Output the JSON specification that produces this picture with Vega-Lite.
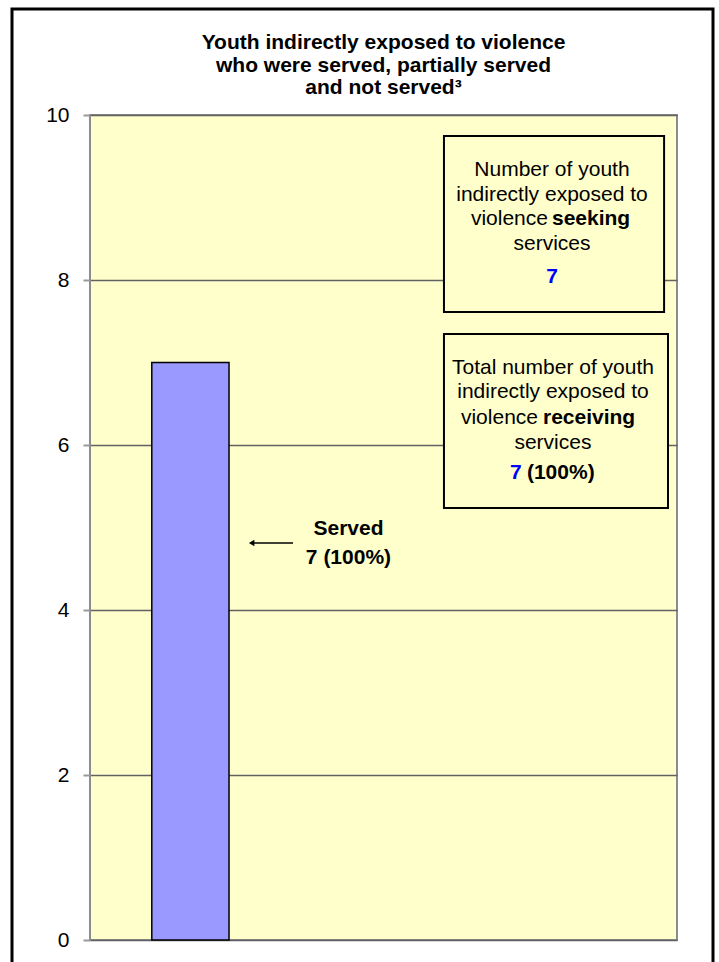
{
  "$schema": "https://vega.github.io/schema/vega-lite/v6.json",
  "width": 587,
  "height": 825,
  "autosize": {"type": "none"},
  "padding": {"left": 90, "top": 115, "right": 42, "bottom": 22},
  "background": "white",
  "config": {
    "view": {"fill": "#FFFFCC", "stroke": "#8c8c8c", "strokeWidth": 2},
    "font": "Liberation Sans",
    "axisY": {
      "format": "d",
      "labelFont": "Liberation Sans",
      "labelFontSize": 21,
      "labelColor": "black",
      "labelPadding": 14,
      "gridColor": "#626262",
      "gridWidth": 1.4,
      "domain": false,
      "tickSize": 7,
      "tickColor": "#999999",
      "tickWidth": 2
    }
  },
  "title": {
    "text": ["Youth indirectly exposed to violence", "who were served, partially served", "and not served³"],
    "font": "Liberation Sans",
    "fontSize": 21,
    "fontWeight": "bold",
    "lineHeight": 22.5,
    "offset": -91,
    "anchor": "middle",
    "frame": "group",
    "color": "black"
  },
  "datasets": {
    "youth": [{"status": "Served", "count": 7}],
    "frame": [{"x0": -0.3986, "x1": 3.184, "y0": 11.285, "y1": -0.6}],
    "boxes": [
      {"box": "seeking", "x0": 1.809, "x1": 2.934, "y0": 9.745, "y1": 7.612},
      {"box": "receiving", "x0": 1.809, "x1": 2.954, "y0": 7.345, "y1": 5.236}
    ],
    "plainText": [
      {"note": "Number of youth", "ax": 2.361, "ay": 9.333},
      {"note": "indirectly exposed to", "ax": 2.361, "ay": 9.03},
      {"note": "services", "ax": 2.361, "ay": 8.436},
      {"note": "Total number of youth", "ax": 2.366, "ay": 6.933},
      {"note": "indirectly exposed to", "ax": 2.366, "ay": 6.642},
      {"note": "services", "ax": 2.366, "ay": 6.024}
    ],
    "plainRight": [
      {"note": "violence", "ax": 2.3407, "ay": 8.739},
      {"note": "violence", "ax": 2.2896, "ay": 6.327}
    ],
    "boldLeft": [
      {"note": "seeking", "ax": 2.361, "ay": 8.739},
      {"note": "receiving", "ax": 2.315, "ay": 6.327},
      {"note": "(100%)", "ax": 2.233, "ay": 5.661}
    ],
    "blueCount": [
      {"note": "7", "ax": 2.361, "ay": 8.036}
    ],
    "blueLeft": [
      {"note": "7", "ax": 2.146, "ay": 5.661}
    ],
    "servedLabel": [
      {"note": "Served", "ax": 1.321, "ay": 4.982},
      {"note": "7 (100%)", "ax": 1.321, "ay": 4.63}
    ],
    "arrow": [{"xa": 1.0375, "xb": 0.835, "ay": 4.812}],
    "arrowHead": [{"ax": 0.826, "ay": 4.812}]
  },
  "layer": [
    {
      "data": {"name": "youth"},
      "mark": {"type": "bar", "fill": "#9999FF", "stroke": "black", "strokeWidth": 1.5},
      "encoding": {
        "x": {
          "field": "status",
          "type": "nominal",
          "scale": {"domain": ["Served", "Partially served", "Not served"], "paddingInner": 0.6, "paddingOuter": 0.32},
          "axis": null
        },
        "y": {
          "field": "count",
          "type": "quantitative",
          "scale": {"domain": [0, 10], "nice": false, "zero": true},
          "axis": {
            "values": [0, 2, 4, 6, 8, 10],
            "format": "d",
            "title": null,
            "grid": true,
            "ticks": true
          }
        }
      }
    },
    {
      "layer": [
        {
          "data": {"name": "frame"},
          "mark": {"type": "rect", "fill": null, "filled": false, "stroke": "black", "strokeWidth": 3},
          "encoding": {
            "x": {"field": "x0", "type": "quantitative", "scale": {"domain": [0, 3], "nice": false, "zero": false}, "axis": null},
            "x2": {"field": "x1"},
            "y": {"field": "y0", "type": "quantitative"},
            "y2": {"field": "y1"}
          }
        },
        {
          "data": {"name": "boxes"},
          "mark": {"type": "rect", "fill": "#FFFFCC", "stroke": "black", "strokeWidth": 2},
          "encoding": {
            "x": {"field": "x0", "type": "quantitative", "axis": null},
            "x2": {"field": "x1"},
            "y": {"field": "y0", "type": "quantitative"},
            "y2": {"field": "y1"}
          }
        },
        {
          "data": {"name": "plainText"},
          "mark": {"type": "text", "font": "Liberation Sans", "fontSize": 21, "color": "black", "align": "center", "baseline": "middle"},
          "encoding": {
            "x": {"field": "ax", "type": "quantitative", "axis": null},
            "y": {"field": "ay", "type": "quantitative"},
            "text": {"field": "note"}
          }
        },
        {
          "data": {"name": "plainRight"},
          "mark": {"type": "text", "font": "Liberation Sans", "fontSize": 21, "color": "black", "align": "right", "baseline": "middle"},
          "encoding": {
            "x": {"field": "ax", "type": "quantitative", "axis": null},
            "y": {"field": "ay", "type": "quantitative"},
            "text": {"field": "note"}
          }
        },
        {
          "data": {"name": "boldLeft"},
          "mark": {"type": "text", "font": "Liberation Sans", "fontSize": 21, "fontWeight": "bold", "color": "black", "align": "left", "baseline": "middle"},
          "encoding": {
            "x": {"field": "ax", "type": "quantitative", "axis": null},
            "y": {"field": "ay", "type": "quantitative"},
            "text": {"field": "note"}
          }
        },
        {
          "data": {"name": "blueCount"},
          "mark": {"type": "text", "font": "Liberation Sans", "fontSize": 21, "fontWeight": "bold", "color": "#0000FF", "align": "center", "baseline": "middle"},
          "encoding": {
            "x": {"field": "ax", "type": "quantitative", "axis": null},
            "y": {"field": "ay", "type": "quantitative"},
            "text": {"field": "note"}
          }
        },
        {
          "data": {"name": "blueLeft"},
          "mark": {"type": "text", "font": "Liberation Sans", "fontSize": 21, "fontWeight": "bold", "color": "#0000FF", "align": "left", "baseline": "middle"},
          "encoding": {
            "x": {"field": "ax", "type": "quantitative", "axis": null},
            "y": {"field": "ay", "type": "quantitative"},
            "text": {"field": "note"}
          }
        },
        {
          "data": {"name": "servedLabel"},
          "mark": {"type": "text", "font": "Liberation Sans", "fontSize": 21, "fontWeight": "bold", "color": "black", "align": "center", "baseline": "middle"},
          "encoding": {
            "x": {"field": "ax", "type": "quantitative", "axis": null},
            "y": {"field": "ay", "type": "quantitative"},
            "text": {"field": "note"}
          }
        },
        {
          "data": {"name": "arrow"},
          "mark": {"type": "rule", "color": "black", "strokeWidth": 1.5},
          "encoding": {
            "x": {"field": "xa", "type": "quantitative", "axis": null},
            "x2": {"field": "xb"},
            "y": {"field": "ay", "type": "quantitative"}
          }
        },
        {
          "data": {"name": "arrowHead"},
          "mark": {"type": "point", "shape": "triangle-left", "filled": true, "color": "black", "size": 40, "opacity": 1},
          "encoding": {
            "x": {"field": "ax", "type": "quantitative", "axis": null},
            "y": {"field": "ay", "type": "quantitative"}
          }
        }
      ]
    }
  ],
  "resolve": {"scale": {"x": "independent"}}
}
